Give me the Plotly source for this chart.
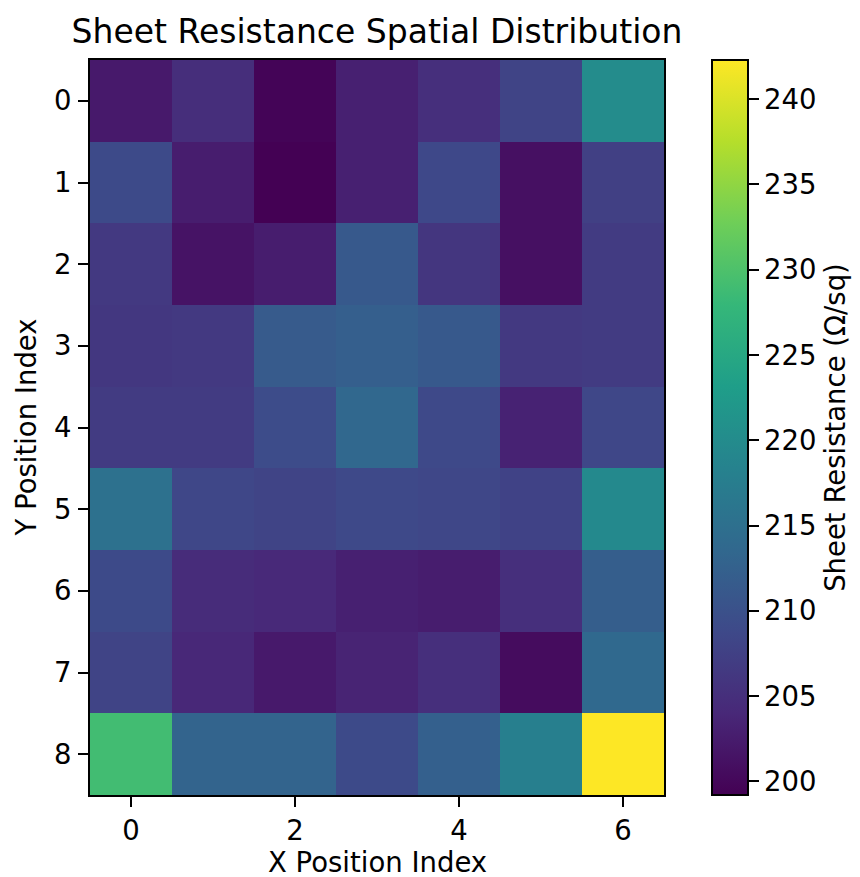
import plotly.graph_objects as go

# Grid positions
x_index = [0, 1, 2, 3, 4, 5, 6]
y_index = [0, 1, 2, 3, 4, 5, 6, 7, 8]

# Sheet resistance (Ω/sq), one row per Y position
row_0 = [202.2, 204.8, 199.6, 203.0, 205.0, 208.0, 220.0]
row_1 = [209.0, 202.6, 199.2, 203.0, 208.7, 201.0, 207.5]
row_2 = [206.5, 201.4, 202.6, 211.3, 206.0, 201.0, 206.8]
row_3 = [206.2, 206.5, 211.5, 212.2, 211.3, 206.5, 206.7]
row_4 = [206.8, 206.8, 209.3, 213.5, 208.8, 203.3, 208.5]
row_5 = [215.2, 208.5, 208.0, 208.8, 208.5, 207.8, 219.6]
row_6 = [209.0, 204.5, 204.2, 203.0, 202.6, 205.0, 212.0]
row_7 = [208.0, 204.0, 202.2, 203.5, 205.0, 200.5, 213.8]
row_8 = [229.0, 213.0, 213.0, 209.0, 212.3, 217.8, 242.3]

resistance = [row_0, row_1, row_2, row_3, row_4, row_5, row_6, row_7, row_8]

cbar_ticks = [200, 205, 210, 215, 220, 225, 230, 235, 240]

W, H = 860, 877
L, R, T, B = 90, 664, 60, 795

font_family = "DejaVu Sans"
label_size = 27.5
title_size = 33

fig = go.Figure(
    go.Heatmap(
        z=resistance,
        x=x_index,
        y=y_index,
        colorscale="Viridis",
        colorbar=dict(
            title=dict(text="Sheet Resistance (Ω/sq)", side="right",
                       font=dict(size=label_size, family=font_family, color="black")),
            thickness=36,
            thicknessmode="pixels",
            len=1.0,
            lenmode="fraction",
            x=(712 - L) / (R - L),
            xanchor="left",
            y=0.5,
            yanchor="middle",
            outlinewidth=2,
            outlinecolor="black",
            ticks="outside",
            ticklen=10,
            tickwidth=2,
            tickcolor="black",
            tickvals=cbar_ticks,
            tickfont=dict(size=label_size, family=font_family, color="black"),
            xpad=0,
            ypad=0,
        ),
        hovertemplate="x=%{x}<br>y=%{y}<br>%{z:.1f} Ω/sq<extra></extra>",
    )
)

axis_common = dict(
    automargin=False,
    showgrid=False,
    zeroline=False,
    showline=True,
    linecolor="black",
    linewidth=2,
    mirror=True,
    ticks="outside",
    ticklen=10,
    tickwidth=2,
    tickcolor="black",
    tickfont=dict(size=label_size, family=font_family, color="black"),
)

fig.update_layout(
    width=W,
    height=H,
    margin=dict(l=L, r=W - R, t=T, b=H - B, pad=0, autoexpand=False),
    paper_bgcolor="white",
    plot_bgcolor="white",
    font=dict(family=font_family, color="black"),
    title=dict(
        text="Sheet Resistance Spatial Distribution",
        x=(L + R) / 2 / W,
        xanchor="center",
        y=1 - 31 / H,
        yanchor="middle",
        font=dict(size=title_size, family=font_family, color="black"),
    ),
    xaxis=dict(
        **axis_common,
        range=[-0.5, 6.5],
        tickvals=[0, 2, 4, 6],
        ticklabelstandoff=0,
    ),
    yaxis=dict(
        **axis_common,
        range=[8.5, -0.5],
        tickvals=y_index,
        ticklabelstandoff=1,
    ),
)

# Axis titles, placed in pixel terms relative to the plotting area
plot_h = B - T
plot_w = R - L
fig.add_annotation(
    text="X Position Index",
    xref="paper", yref="paper",
    x=0.5, y=-(862 - B) / plot_h,
    xanchor="center", yanchor="middle",
    showarrow=False,
    font=dict(size=label_size, family=font_family, color="black"),
)
fig.add_annotation(
    text="Y Position Index",
    xref="paper", yref="paper",
    x=-(L - 25) / plot_w, y=0.5,
    xanchor="center", yanchor="middle",
    textangle=-90,
    showarrow=False,
    font=dict(size=label_size, family=font_family, color="black"),
)

fig.write_html("out.html")
